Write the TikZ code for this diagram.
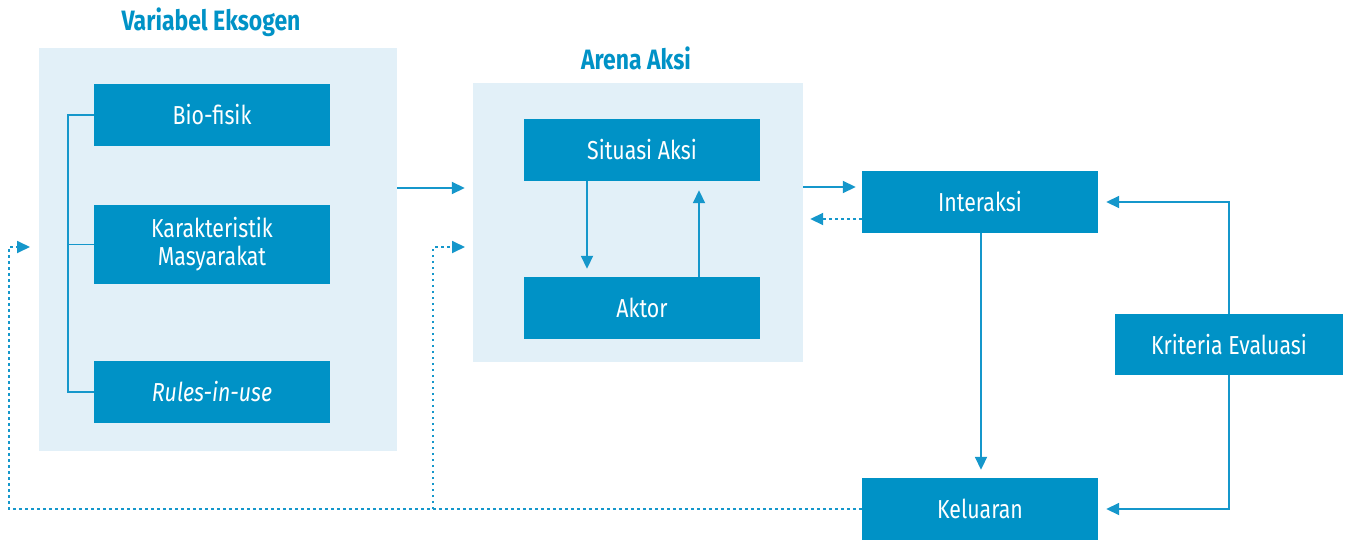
\documentclass[tikz,border=0pt]{standalone}
\usepackage{fontspec}
\setmainfont{Fira Sans}[FakeStretch=0.82]
\usetikzlibrary{arrows.meta,calc}
\definecolor{boxblue}{HTML}{0092C6}
\definecolor{lineblue}{HTML}{1597CB}
\definecolor{panelbg}{HTML}{E2F0F8}
\begin{document}
\begin{tikzpicture}[x=1pt,y=-1pt,
  panel/.style={fill=panelbg,draw=none,inner sep=0pt},
  blockbox/.style={fill=boxblue,draw=none,inner sep=0pt,text=white,align=center,
    font=\fontsize{26}{28}\selectfont,minimum width=236pt,minimum height=62pt},
  heading/.style={text=boxblue,font=\fontsize{28}{30}\selectfont\bfseries},
  conn/.style={draw=lineblue,line width=1.8pt},
  arr/.style={conn,-{Triangle[length=13pt,width=12pt]}},
  dots/.style={conn,dash pattern=on 2.5pt off 3.5pt},
  darr/.style={dots,-{Triangle[length=13pt,width=12pt]}}]
\useasboundingbox (0,0) rectangle (1351,540);

% exogenous variables panel
\node[panel,minimum width=358pt,minimum height=403pt] (varpanel) at (218,249.5) {};
\node[heading] (vartitle) at (211,22) {Variabel Eksogen};
\node[blockbox] (bio) at (212,115) {Bio-fisik};
\node[blockbox,minimum height=79pt] (kar) at (212,244.5) {Karakteristik\\Masyarakat};
\node[blockbox] (rules) at (212,392) {\itshape Rules-in-use};

% bracket joining the three exogenous variables
\coordinate (brtop) at (68,115);
\coordinate (brbot) at (68,392);
\draw[conn,line width=1.4pt] (bio.west) -- (brtop) -- (brbot) -- (rules.west);
\draw[conn,line width=1.4pt] (kar.west) -- (kar.west -| brtop);

% action arena panel
\node[panel,minimum width=330pt,minimum height=279pt] (arena) at (638,222.5) {};
\node[heading] (arenatitle) at (636,58) {Arena Aksi};
\node[blockbox] (situasi) at (642,150) {Situasi Aksi};
\node[blockbox] (aktor) at (642,308) {Aktor};
\draw[arr,shorten >=-1pt] (situasi.south -| 587,0) -- ($(aktor.north -| 587,0)+(0,-9)$);
\draw[arr] (aktor.north -| 699,0) -- ($(situasi.south -| 699,0)+(0,9)$);

% right-hand boxes
\node[blockbox] (interaksi) at (980,202) {Interaksi};
\node[blockbox] (keluaran) at (980,509) {Keluaran};
\node[blockbox,minimum width=228pt,minimum height=61pt] (kriteria) at (1229,344.5) {Kriteria Evaluasi};

% main flow
\draw[arr] (varpanel.east |- 0,188) -- ($(arena.west |- 0,188)+(-8,0)$);
\draw[arr] (arena.east |- 0,187) -- ($(interaksi.west |- 0,187)+(-6,0)$);
\draw[darr] (interaksi.west |- 0,219) -- ($(arena.east |- 0,219)+(7,0)$);
\draw[arr] (interaksi.south -| 981,0) -- ($(keluaran.north -| 981,0)+(0,-8)$);
\draw[arr] (kriteria.north) |- ($(interaksi.east)+(8,0)$);
\draw[arr] (kriteria.south) |- ($(keluaran.east)+(8,0)$);

% feedback from outcomes
\coordinate (fbvar) at (30,247);
\coordinate (fbarena) at (465,247);
\coordinate (fbsplit) at (433,509);
\draw[darr] (keluaran.west) -| (9,247) -- (fbvar);
\draw[darr] (fbsplit) |- (fbarena);
\end{tikzpicture}
\end{document}
